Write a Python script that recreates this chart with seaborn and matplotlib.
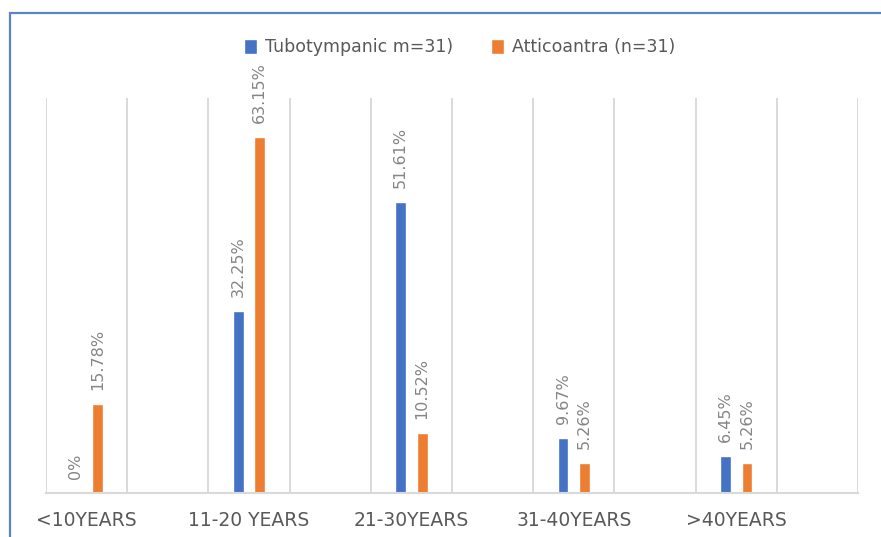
import matplotlib
matplotlib.use("Agg")
import matplotlib.pyplot as plt
import seaborn as sns
import pandas as pd
import numpy as np
from matplotlib.patches import Rectangle

categories = ["<10YEARS", "11-20 YEARS", "21-30YEARS", "31-40YEARS", ">40YEARS"]
series_names = ["Tubotympanic m=31)", "Atticoantra (n=31)"]
tubotympanic = [0, 32.25, 51.61, 9.67, 6.45]
atticoantra = [15.78, 63.15, 10.52, 5.26, 5.26]
colors = ["#4472C4", "#ED7D31"]

df = pd.DataFrame({
    "age": categories * 2,
    "pct": tubotympanic + atticoantra,
    "type": [series_names[0]] * len(categories) + [series_names[1]] * len(categories),
})

sns.set_theme(style="white")
plt.rcParams["font.family"] = ["DejaVu Sans"]

fig = plt.figure(figsize=(8.81, 5.37), dpi=100)
ax = fig.add_axes([46 / 881, 1 - 492.7 / 537, (858 - 46) / 881, (492.7 - 98) / 537])

sns.barplot(data=df, x="age", y="pct", hue="type", palette=colors,
            width=0.265, gap=0.5, errorbar=None, ax=ax, saturation=1)

for cont, vals in zip(ax.containers, [tubotympanic, atticoantra]):
    ax.bar_label(cont, labels=[f"{v:g}%" for v in vals], rotation=90,
                 padding=10, color="#858585", fontsize=11.5)

ax.set_xlim(-0.25, 4.75)
ax.set_ylim(0, 70)
ax.set_xticks(np.arange(-0.25, 4.8, 0.5), minor=True)
ax.grid(which="minor", axis="x", color="#d9d9d9", lw=1.4)
ax.grid(which="major", visible=False)
ax.set_axisbelow(True)
ax.set_yticks([])
ax.set_xlabel("")
ax.set_ylabel("")
ax.tick_params(axis="x", which="both", length=0, pad=13, labelsize=13.5, labelcolor="#595959")
for s in ["top", "left", "right"]:
    ax.spines[s].set_visible(False)
ax.spines["bottom"].set_color("#d9d9d9")
ax.spines["bottom"].set_linewidth(1.5)

handles, labels = ax.get_legend_handles_labels()
ax.legend(handles, labels, loc="center", bbox_to_anchor=(0.522, 1 - 47 / 537),
          bbox_transform=fig.transFigure, ncol=2, frameon=False,
          handlelength=0.75, handleheight=0.95, columnspacing=2.2, handletextpad=0.45,
          fontsize=12.5, labelcolor="#595959")

fig.add_artist(Rectangle((10 / 881, -0.2), 1.2, 1.2 - 13 / 537 + 0.0, transform=fig.transFigure,
                         fill=False, edgecolor="#5b84c4", lw=1.6))

fig.savefig("out.png", dpi=100)
